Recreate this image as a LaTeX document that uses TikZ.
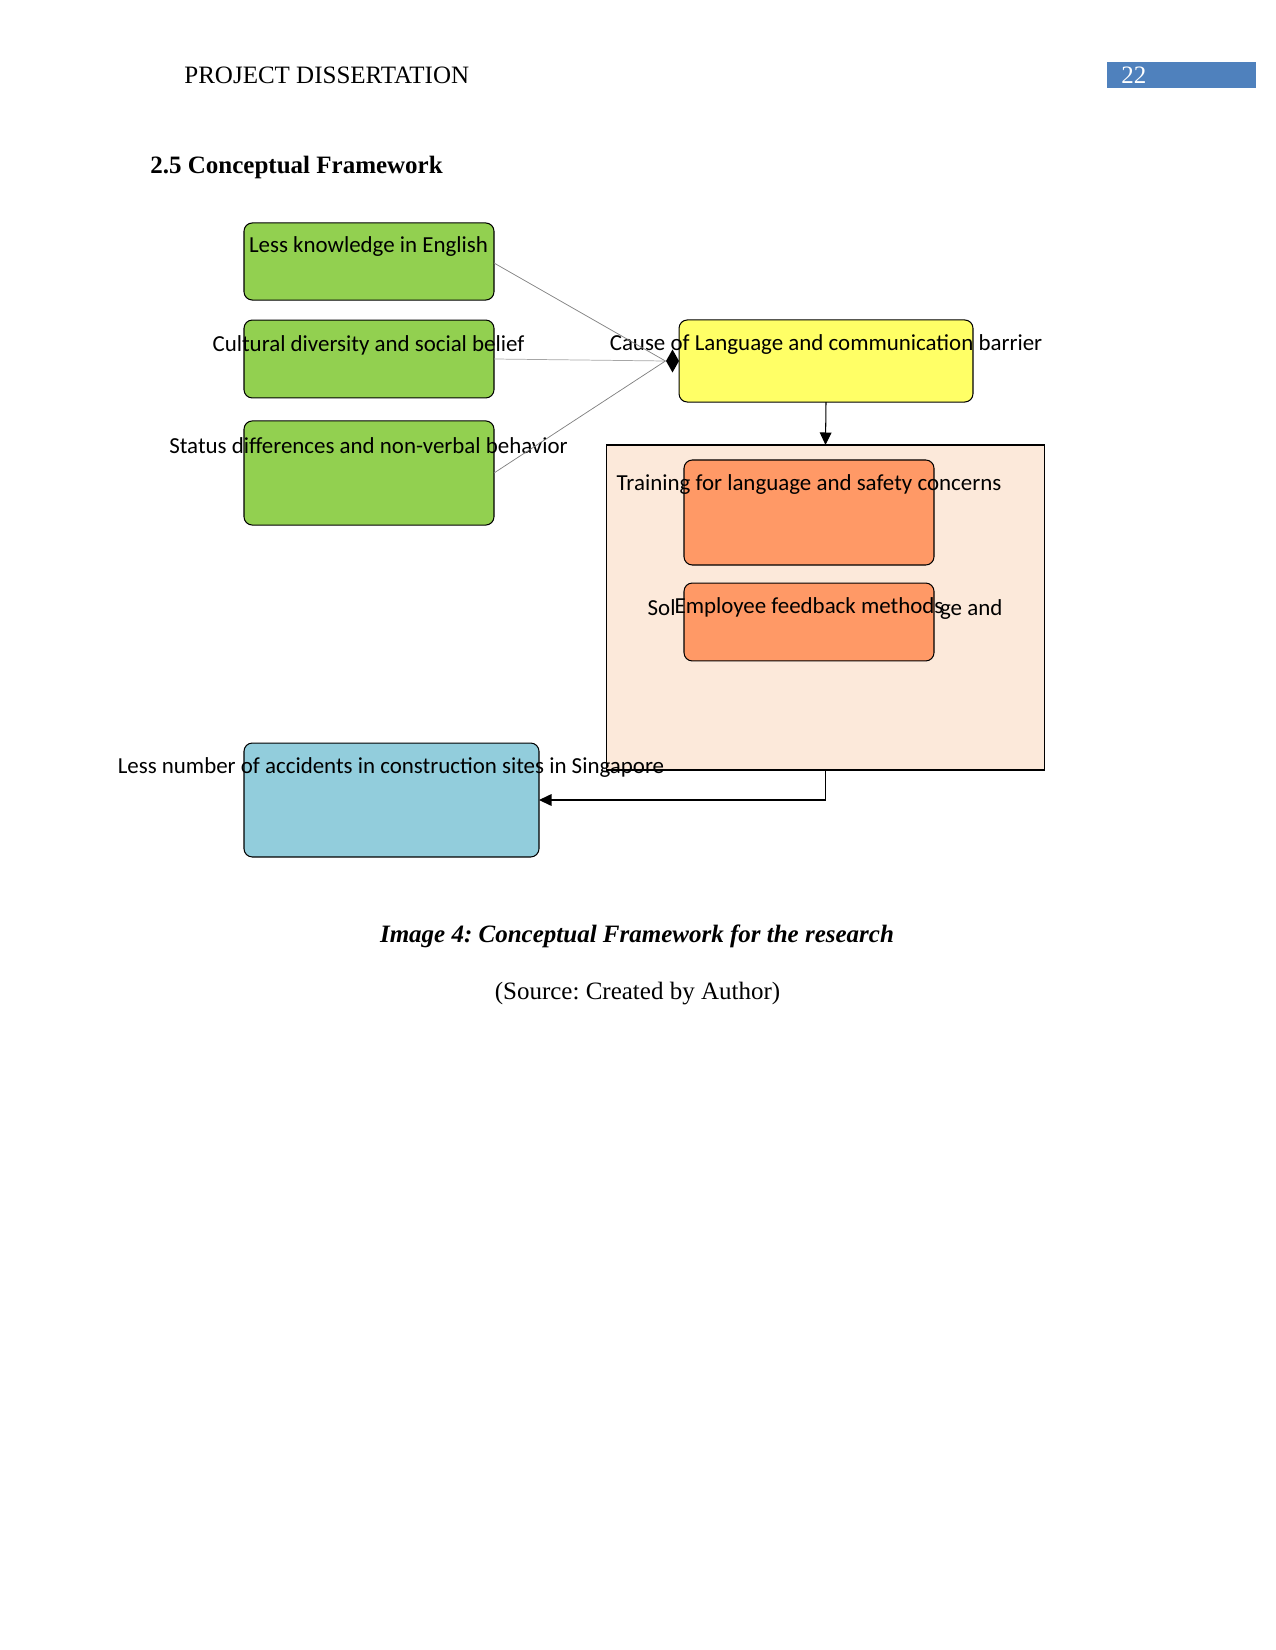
\documentclass[tikz,border=0pt]{standalone}
\usepackage{fontspec}
\setmainfont{Liberation Serif}
\newfontfamily\carlito{Carlito}
\usetikzlibrary{shapes.geometric,arrows.meta}
\definecolor{gfill}{HTML}{92D050}
\definecolor{yfill}{HTML}{FFFF66}
\definecolor{pfill}{HTML}{FCE9DA}
\definecolor{ofill}{HTML}{FF9966}
\definecolor{bfill}{HTML}{92CDDC}
\definecolor{hblue}{HTML}{4F81BD}
\frenchspacing
\begin{document}
\begin{tikzpicture}[x=0.48pt,y=-0.48pt,
  box/.style={draw=black, line width=0.5pt, rounded corners=4pt, inner sep=0pt, outer sep=0pt},
  plainbox/.style={draw=black, line width=0.5pt, inner sep=0pt, outer sep=0pt},
  lbl/.style={font=\carlito\fontsize{11}{13}\selectfont, inner sep=0pt},
  feed/.style={draw=gray, line width=0.35pt},
  tip/.style={-{Triangle[length=6pt,width=5.6pt]}, draw=black, line width=0.5pt}]
\useasboundingbox (0,0) rectangle (1275,1650);
% header
\node[anchor=west, inner sep=0pt, font=\fontsize{12}{14}\selectfont] (hdr) at (184,75) {PROJECT DISSERTATION};
\node[fill=hblue, minimum width=71.5pt, minimum height=12.5pt, inner sep=0pt] (pgbox) at (1181,75) {};
\node[anchor=west, inner sep=0pt, text=white, font=\fontsize{12}{14}\selectfont] (pgnum) at (1121,75) {22};
\node[anchor=west, inner sep=0pt, font=\bfseries\fontsize{12}{14}\selectfont] (head) at (150,167) {2.5 Conceptual Framework};
% boxes
\node[plainbox, fill=pfill, minimum width=209.8pt, minimum height=156pt] (cont) at (825.5,607.5) {};
\node[box, fill=gfill, minimum width=120pt, minimum height=37pt] (g1) at (369,261.5) {};
\node[box, fill=gfill, minimum width=120pt, minimum height=37.4pt] (g2) at (369,359) {};
\node[box, fill=gfill, minimum width=120pt, minimum height=50pt] (g3) at (369,473) {};
\node[box, fill=yfill, minimum width=141.1pt, minimum height=39.4pt] (yel) at (826,361) {};
\node[box, fill=ofill, minimum width=120pt, minimum height=50.4pt] (o1) at (809,512.5) {};
\node[lbl] (sol) at (825,610) {Sol\hspace{127pt}ge and};
\node[box, fill=ofill, minimum width=120pt, minimum height=37.4pt] (o2) at (809,622) {};
\node[box, fill=bfill, minimum width=141.6pt, minimum height=54.7pt] (blue) at (391.5,800) {};
% texts
\node[lbl] (t1) at (368.5,247) {Less knowledge in English};
\node[lbl] (t2) at (368.5,345) {Cultural diversity and social belief};
\node[lbl] (t3) at (368.5,446) {Status differences and non-verbal behavior};
\node[lbl] (t4) at (826,345) {Cause of Language and communication barrier};
\node[lbl] (t5) at (809,485) {Training for language and safety concerns};
\node[lbl] (t6) at (809,607) {Employee feedback methods};
\node[lbl] (t7) at (391,768) {Less number of accidents in construction sites in Singapore};
% connectors
\node[diamond, fill=black, inner sep=0pt, minimum width=6.4pt, minimum height=11.2pt, shape aspect=0.56] (dia) at (672.5,361) {};
\draw[feed] (g1.east) ++(0,1.5) coordinate (g1e) -- (dia.west);
\draw[feed, draw=gray!70] (g2.east) -- (dia.west);
\draw[feed] (g3.east) -- (dia.west);
\draw[tip] (yel.south) -- (cont.north);
\draw[tip] (cont.south) |- (blue.east);
% caption
\node[inner sep=0pt, font=\bfseries\itshape\fontsize{12}{14}\selectfont] (cap) at (637,936) {Image 4: Conceptual Framework for the research};
\node[inner sep=0pt, font=\fontsize{12}{14}\selectfont] (src) at (637.5,994) {(Source: Created by Author)};
\end{tikzpicture}
\end{document}
